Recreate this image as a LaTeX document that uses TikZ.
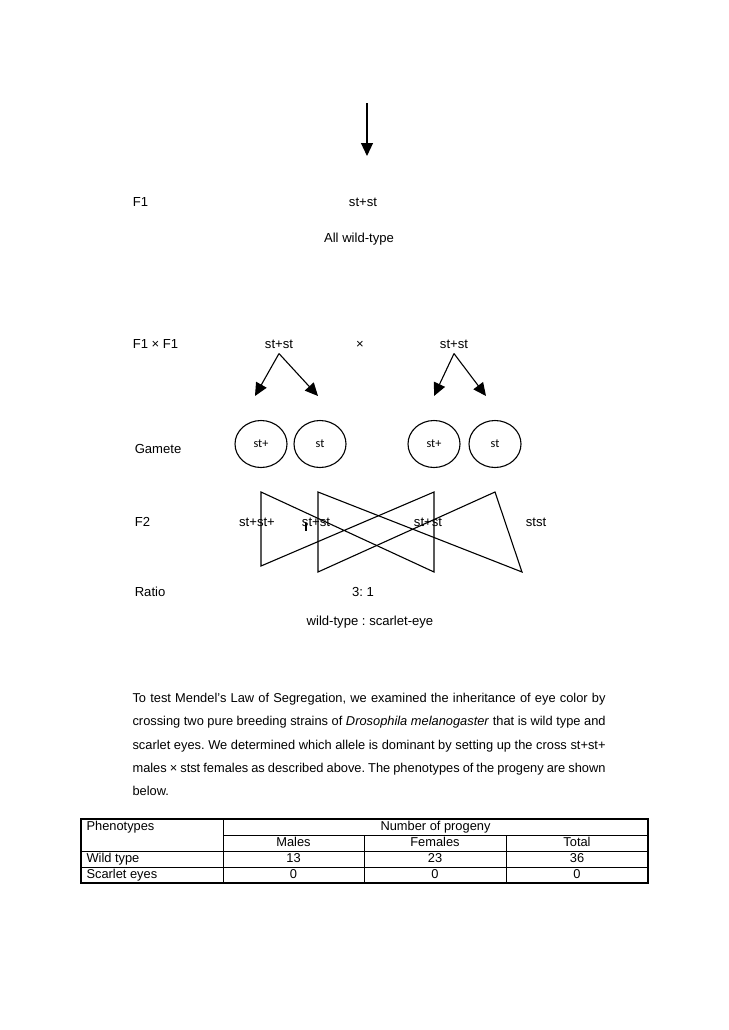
\documentclass[tikz,border=0pt]{standalone}
\usepackage{fontspec}
\setmainfont{Liberation Sans}
\newfontfamily\gamfont{Carlito}
\usetikzlibrary{arrows.meta,positioning,shapes.geometric}
\frenchspacing

\begin{document}
\begin{tikzpicture}[x=0.8173pt, y=-0.8173pt, >={Triangle[length=10.6pt,width=9.8pt]}, line width=0.9pt,
  lbl/.style={anchor=base, inner sep=1pt, font=\fontsize{10.7}{12}\selectfont},
  rowlbl/.style={lbl, anchor=base west},
  gam/.style={draw, ellipse, inner sep=0pt, minimum width=42.5pt, minimum height=38.4pt, font=\gamfont\fontsize{10}{12}\selectfont},
  cell/.style={anchor=base, inner sep=0pt, font=\fontsize{10.5}{12}\selectfont},
  rulethin/.style={line width=0.6pt}]

  \useasboundingbox[fill=white] (0,0) rectangle (728,1030);

  % Parents to F1
  \coordinate (arrtop) at (367,103);
  \coordinate (arrtip) at (367,156);
  \draw[->] (arrtop) -- (arrtip);

  % F1
  \node[rowlbl] (f1) at (131,206.5) {F1};
  \node[lbl] (f1geno) at (363,206.5) {st+st};
  \node[lbl] (f1pheno) at (359,242.5) {All wild-type};

  % F1 x F1
  \node[rowlbl] (cross) at (131,348) {F1 × F1};
  \node[lbl] (pa) at (279,348) {st+st};
  \node[lbl] (times) at (360,348) {×};
  \node[lbl] (pb) at (454,348) {st+st};

  \coordinate (pa1) at (255,396);
  \coordinate (pa2) at (318,396);
  \coordinate (pb1) at (434,396);
  \coordinate (pb2) at (486,396);
  \draw[->] ([yshift=-3pt]pa.south) -- (pa1);
  \draw[->] ([yshift=-3pt]pa.south) -- (pa2);
  \draw[->] ([yshift=-3pt]pb.south) -- (pb1);
  \draw[->] ([yshift=-3pt]pb.south) -- (pb2);

  % Gametes
  \node[rowlbl] (gamete) at (133,453) {Gamete};
  \node[gam] (ga1) at (261,444) {st+};
  \node[gam] (ga2) at (320,444) {st};
  \node[gam] (gb1) at (434,444) {st+};
  \node[gam] (gb2) at (495,444) {st};

  % F2
  \node[rowlbl] (f2) at (133,526) {F2};
  \node[lbl] (o1) at (257,526) {st+st+};
  \node[lbl] (o2) at (316,526) {st+st};
  \node[lbl] (o3) at (428,526) {st+st};
  \node[lbl] (o4) at (536,526) {stst};

  \draw (261,492) -- (434,572) -- (434,492) -- (261,566) -- cycle;
  \draw (318,492) -- (522,572) -- (495,492) -- (318,572) -- cycle;
  \draw (306,523) -- (306,531);

  % Ratio
  \node[rowlbl] (ratio) at (133,596.5) {Ratio};
  \node[lbl] (ratioval) at (363,596.5) {3: 1};
  \node[lbl] (ratiokey) at (370,625) {wild-type : scarlet-eye};

  % Text
  \node[anchor=base west, text width=386.6pt, align=justify, inner sep=0pt, font=\fontsize{10.5}{19}\selectfont] (para) at (132,702.7)
    {To test Mendel’s Law of Segregation, we examined the inheritance of eye color by\linebreak
     crossing two pure breeding strains of \textit{Drosophila melanogaster} that is wild type and\linebreak
     scarlet eyes. We determined which allele is dominant by setting up the cross st+st+\linebreak
     males × stst females as described above. The phenotypes of the progeny are shown\linebreak
     below.};

  % Table
  \draw[rulethin] (223,819) -- (223,883);
  \draw[rulethin] (223,835) -- (648,835);
  \draw[rulethin] (81,851) -- (648,851);
  \draw[rulethin] (81,867) -- (648,867);
  \draw[rulethin] (364,835) -- (364,883);
  \draw[rulethin] (506,835) -- (506,883);
  \draw[line width=1.2pt] (81,819) rectangle (648,883);

  \node[cell, anchor=base west] (hpheno) at (86,830) {Phenotypes};
  \node[cell] (hnum) at (435.5,830) {Number of progeny};
  \node[cell] (hmale) at (293.5,846) {Males};
  \node[cell] (hfem) at (435,846) {Females};
  \node[cell] (htot) at (577,846) {Total};
  \node[cell, anchor=base west] (rwild) at (86,862.5) {Wild type};
  \node[cell] (wmale) at (293.5,862.5) {13};
  \node[cell] (wfem) at (435,862.5) {23};
  \node[cell] (wtot) at (577,862.5) {36};
  \node[cell, anchor=base west] (rscar) at (86,878.5) {Scarlet eyes};
  \node[cell] (smale) at (293.5,878.5) {0};
  \node[cell] (sfem) at (435,878.5) {0};
  \node[cell] (stot) at (577,878.5) {0};
\end{tikzpicture}
\end{document}
